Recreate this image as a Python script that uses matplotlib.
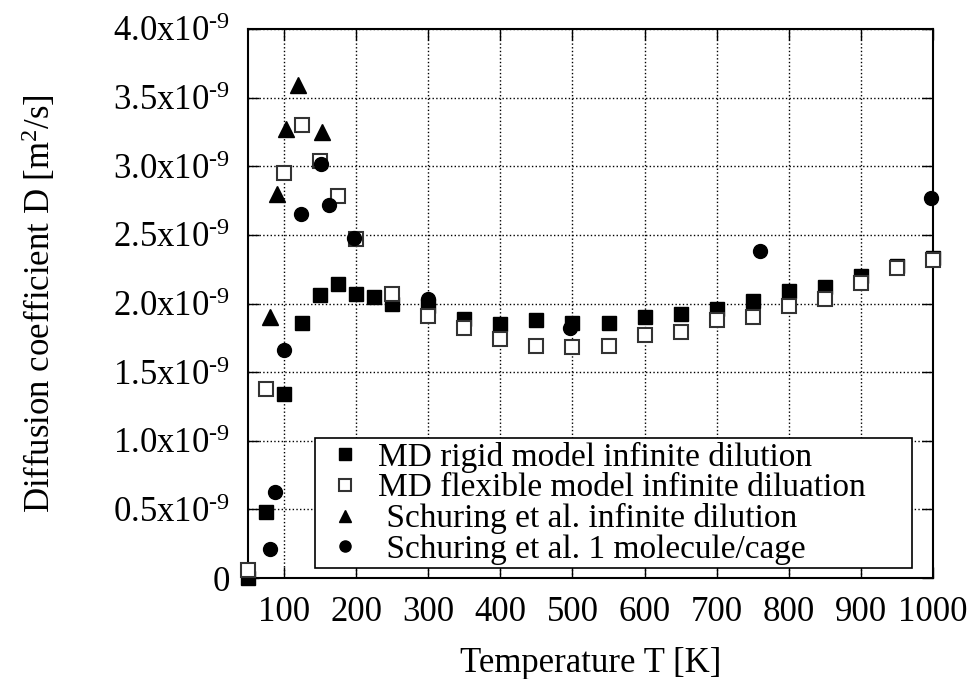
import matplotlib
matplotlib.use("Agg")
import matplotlib.pyplot as plt

plt.rcParams['font.family'] = ['Liberation Serif', 'DejaVu Serif']
plt.rcParams['mathtext.fontset'] = 'custom'
plt.rcParams['mathtext.rm'] = 'Liberation Serif'
plt.rcParams['mathtext.it'] = 'Liberation Serif:italic'

# MD rigid model, infinite dilution
T_rigid = [50, 75, 100, 125, 150, 175, 200, 225, 250, 300, 350, 400, 450, 500,
           550, 600, 650, 700, 750, 800, 850, 900, 950, 1000]
D_rigid = [0.0, 0.48, 1.34, 1.86, 2.06, 2.14, 2.07, 2.05, 2.00, 1.98, 1.89, 1.85,
           1.88, 1.86, 1.86, 1.90, 1.92, 1.96, 2.02, 2.09, 2.12, 2.20, 2.27, 2.33]

# MD flexible model, infinite dilution
T_flex = [50, 75, 100, 125, 150, 175, 200, 250, 300, 350, 400, 450, 500,
          550, 600, 650, 700, 750, 800, 850, 900, 950, 1000]
D_flex = [0.06, 1.38, 2.95, 3.30, 3.04, 2.78, 2.47, 2.07, 1.91, 1.82, 1.74, 1.69,
          1.68, 1.69, 1.77, 1.79, 1.88, 1.90, 1.98, 2.03, 2.15, 2.26, 2.32]

# Schuring et al., infinite dilution
T_sch_inf = [81, 90, 102, 119, 152]
D_sch_inf = [1.90, 2.80, 3.27, 3.59, 3.25]

# Schuring et al., 1 molecule/cage
T_sch_1 = [81, 88, 100, 123, 151, 162, 197, 299, 496, 760, 997]
D_sch_1 = [0.21, 0.63, 1.66, 2.65, 3.02, 2.72, 2.48, 2.03, 1.82, 2.38, 2.77]

labels = ["MD rigid model infinite dilution",
          "MD flexible model infinite diluation",
          " Schuring et al. infinite dilution",
          " Schuring et al. 1 molecule/cage"]

x_ticks = [100, 200, 300, 400, 500, 600, 700, 800, 900, 1000]
y_ticks = [0, 0.5, 1.0, 1.5, 2.0, 2.5, 3.0, 3.5, 4.0]
y_ticklabels = ["0"] + [r"%.1fx10$^{\text{-9}}$" % v for v in y_ticks[1:]]

FS = 25

fig = plt.figure(figsize=(9.73, 6.79), dpi=100)
ax = fig.add_axes([0.2549, 0.1487, 0.7040, 0.8086])

ax.plot(T_rigid, D_rigid, 's', color='black', markersize=10, label=labels[0], clip_on=False, zorder=3)
ax.plot(T_flex, D_flex, 's', markerfacecolor='white', markeredgecolor='#333333',
        markeredgewidth=1.5, markersize=10, label=labels[1], clip_on=False, zorder=4)
ax.plot(T_sch_inf, D_sch_inf, '^', color='black', markersize=11, label=labels[2], clip_on=False, zorder=5)
ax.plot(T_sch_1, D_sch_1, 'o', color='black', markersize=10, label=labels[3], clip_on=False, zorder=6)

ax.set_xlim(50, 1000)
ax.set_ylim(0, 4.0)
ax.set_xticks(x_ticks)
ax.set_yticks(y_ticks)
ax.set_yticklabels(y_ticklabels)
ax.tick_params(direction='in', length=8, width=1, top=True, right=True,
               labelsize=FS, pad=13)
ax.grid(True, linestyle=':', color='black', linewidth=1)
for s in ax.spines.values():
    s.set_linewidth(1.5)

ax.set_xlabel("Temperature T [K]", fontsize=FS)
ax.xaxis.set_label_coords(0.5, -0.125)
ax.set_ylabel(r"Diffusion coefficient D [m$^{\text{2}}$/s]", fontsize=FS)
ax.yaxis.set_label_coords(-0.278, 0.5)

# legend box spans the same width as in the original
leg = ax.legend(loc='lower left', bbox_to_anchor=(0.098, 0.018, 0.871, 0.2), mode='expand',
                borderaxespad=0, fontsize=24, frameon=True, fancybox=False,
                handletextpad=0.2, labelspacing=0.0, borderpad=0.1,
                handlelength=1.6, markerscale=0.8)
leg.get_frame().set_edgecolor('black')
leg.get_frame().set_linewidth(1.2)
leg.get_frame().set_alpha(1)

fig.savefig("out.png", dpi=100)
